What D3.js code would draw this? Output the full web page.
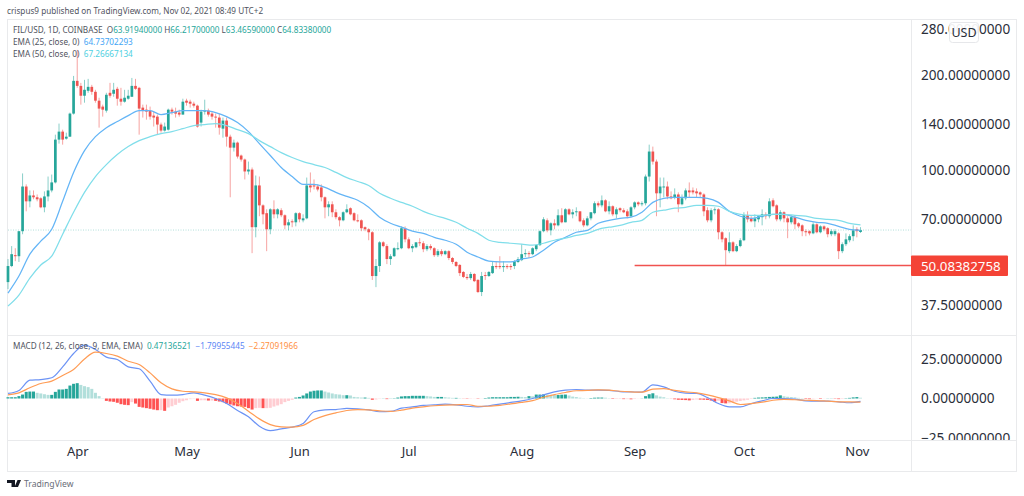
<!DOCTYPE html>
<html>
<head>
<meta charset="utf-8">
<script src="https://cdn.jsdelivr.net/npm/d3@7"></script>
<style>
  html, body { margin: 0; padding: 0; background: #fff; }
  svg { display: block; font-family: "Noto Sans", sans-serif; }
  .axis text { fill: #2a2e39; }
  .axis path { display: none; }
</style>
</head>
<body>
<svg id="chart" width="1024" height="496"></svg>
<script>
// daily candles, FIL/USD
var opens = [
  44.4,49.9,54,53.6,64.3,89,79.9,83.4,82.3,81.7,
  76.5,82.8,86.5,91.7,125.2,132.7,126.1,127.9,151.3,192,
  185.1,172.3,178.6,183.8,177.3,166.2,159.2,154.6,176,174.8,
  181.2,168.6,165,168.6,171,185.1,182.5,158,155.7,154.6,
  149.1,148,139.7,133.7,134.6,155.7,153.5,152.4,150.2,166.2,
  165,162.6,160.3,141.7,153.5,154.6,151.3,148,147,135.6,
  143.8,127.9,118.1,122.5,111.5,108.3,99.3,100.7,66.2,89.7,
  77.6,73.3,65.2,75.4,72.7,74.9,72.2,67.1,69.1,68.6,
  73.3,69.6,70.6,89.7,89.7,89,88.4,82.3,76.5,78.2,
  73.8,71.2,69.6,73.8,76,73.3,69.6,69.6,66.2,65.2,
  63.8,46.4,49.9,59.3,57.7,52.5,53.6,56.4,56.8,65.7,
  60.6,56.8,57.2,59.3,58.9,56.4,57.7,56.8,54,55.6,
  54.4,55.6,52.9,51.4,50.3,47.8,46.1,45.7,47.1,45.1,
  41.3,46.7,46.4,47.4,49.9,49.9,49.5,49.9,49.9,49.9,
  51.4,52.1,54.4,54.8,54.4,56.4,58.1,64.3,69.6,64.7,
  68.1,67.1,72.2,68.6,75.4,72.7,73.8,74.3,69.6,67.1,
  70.6,73.3,78.8,77.6,80.5,74.3,77.1,72.7,76,74.9,
  74.3,71.7,76.5,79.3,78.2,78.8,95.7,114.8,106.7,84.7,
  88.4,89,82.8,82.3,84,78.2,81.7,86.5,86.5,85.9,
  85.3,84,74.9,69.6,74.9,75.4,63.8,61.1,55.6,59.3,
  55.6,57.7,60.2,72.2,70.6,69.1,70.1,71.2,72.7,71.7,
  80.5,77.6,70.1,73.8,70.6,68.6,71.2,68.1,67.1,64.3,
  64.3,63.3,67.6,63.8,66.6,65.7,62.9,62.9,63.3,55.6,
  58.5,60.2,62,65.2,63.92
];
var highs = [
  52.5,57.7,56.8,64.3,97.9,90.4,86.5,86.5,84,82.3,
  85.9,95.7,97.1,129.8,140.7,134.6,131.7,152.4,199,240.5,
  189.2,193.4,194.8,186.5,179.9,169.8,161.5,176,189.2,189.2,
  183.8,182.5,179.9,179.9,196.1,194.8,183.8,161.5,161.5,159.2,
  153.5,150.2,141.7,141.7,156.9,158,158,155.7,168.6,168.6,
  167.4,165,161.5,155.7,167.4,156.9,153.5,151.3,151.3,147,
  147,129.8,125.2,123.4,112.3,109.1,106.7,102.2,96.4,95.7,
  78.2,75.4,76,80.5,76,76,72.7,70.1,70.1,73.8,
  73.8,72.7,95,98.6,93.7,90.4,90.4,82.8,79.9,79.9,
  75.4,71.7,74.3,78.2,76.5,73.8,72.7,70.1,66.6,65.7,
  64.3,52.5,59.8,59.8,58.5,54.4,57.2,59.3,66.6,66.6,
  61.5,58.5,59.3,61.1,59.8,58.5,58.5,57.2,56.4,56.4,
  56,56,53.3,51.7,50.6,48.1,47.1,47.8,47.4,45.4,
  47.8,47.8,48.1,51.7,51.7,53.6,51.7,50.6,50.6,52.1,
  53.3,58.5,56.4,55.6,57.2,58.5,64.7,71.2,70.6,68.6,
  70.1,75.4,76,76,76,75.4,76.5,74.3,70.6,71.7,
  73.8,79.9,79.9,83.4,81.1,79.9,77.6,76.5,76.5,76,
  75.4,77.1,79.9,79.9,79.9,97.1,120.7,119,108.3,95,
  95,92.3,85.9,87.8,85.3,84,87.8,91.7,88.4,87.8,
  85.9,84.7,76.5,76,76.5,76,64.3,61.5,63.8,59.8,
  58.5,61.1,73.8,74.3,71.7,72.7,72.2,75.4,73.8,81.7,
  81.7,78.2,74.9,74.3,71.7,72.2,72.2,68.6,67.6,65.2,
  64.7,68.6,68.1,67.1,67.1,66.2,65.2,65.2,63.8,59.3,
  63.3,62.9,67.1,66.2,66.22
];
var lows = [
  42.2,49.5,51.7,51.4,62.9,74.3,76.5,81.1,79.9,76,
  73.8,79.9,85.3,91,121.6,120.7,125.2,127.9,150.2,182.5,
  161.5,163.8,176,173.5,163.8,136.6,148,152.4,169.8,171,
  160.3,160.3,163.8,167.4,171,179.9,129.8,147,144.8,144.8,
  137.7,129.8,131.7,132.7,133.7,150.2,147,148,150.2,160.3,
  158,158,136.6,137.7,150.2,148,144.8,136.6,129.8,127,
  119,82.3,114.8,109.1,106.7,93.7,97.1,54.8,61.5,71.7,
  67.6,55.6,62.9,70.6,70.6,71.2,65.2,64.7,66.2,66.6,
  68.6,68.6,70.1,85.3,87.1,85.9,79.9,70.6,71.7,71.2,
  70.1,66.6,69.1,73.3,72.2,69.1,68.6,64.3,64.3,60.2,
  45.1,42.8,47.8,57.2,50.6,50.3,53.3,56,56.4,59.3,
  56.4,55.2,56.8,57.7,55.2,55.6,56,53.3,53.3,53.6,
  54,52.1,50.6,49.5,46.4,45.7,45.1,45.1,44.4,41,
  40.1,45.1,46.1,47.1,48.8,48.8,47.8,48.8,48.5,48.8,
  51,51.7,53.3,52.9,54,55.6,57.7,63.8,63.8,62.4,
  65.2,66.6,68.1,68.6,72.2,70.6,71.7,68.6,66.2,66.6,
  69.6,72.7,76.5,76.5,73.8,72.7,71.7,70.6,73.8,73.3,
  70.6,71.2,75.4,77.1,77.1,77.6,92.3,104.4,71.7,76.5,
  82.3,81.1,81.1,81.1,73.8,77.6,80.5,82.3,84,82.3,
  82.3,71.7,68.6,68.6,72.7,60.6,59.3,50.3,54.8,55.2,
  55.2,57.2,59.8,68.6,68.6,66.2,68.6,67.1,70.1,70.6,
  76.5,69.1,69.1,68.6,61.1,67.6,65.2,65.7,62,62,
  62.4,62.9,63.3,63.3,64.3,61.5,62,62,52.5,54.8,
  57.7,59.3,59.8,61.5,63.47
];
var closes = [
  49.9,54.4,53.6,64.3,89,79.9,83.4,82.3,81.1,76.5,
  82.8,86.5,91.7,125.2,132.7,125.2,127.9,151.3,192,185.1,
  172.3,179.9,183.8,177.3,166.2,156.9,155.7,173.5,172.3,179.9,
  168.6,165,169.8,172.3,185.1,181.2,156.9,154.6,153.5,148,
  147,139.7,133.7,137.7,155.7,153.5,151.3,150.2,165,163.8,
  162.6,160.3,137.7,153.5,154.6,150.2,148,147,136.6,143.8,
  127.9,118.1,122.5,110.7,108.3,99.3,100.7,66.2,89.7,77.6,
  72.7,65.2,75.4,72.7,75.4,72.2,67.1,68.6,68.6,73.3,
  70.1,70.6,89.7,88.4,89,87.1,82.3,76.5,78.2,73.8,
  71.2,69.6,73.8,75.4,72.7,69.6,69.1,65.7,65.2,63.8,
  46.4,49.9,59.3,57.7,52.5,53.6,56.8,56.8,65.7,60.6,
  56.8,57.7,59.3,58.9,56.4,57.7,56.8,54,55.6,54.4,
  55.6,52.9,51.4,49.9,47.4,46.1,45.7,47.1,44.7,41.3,
  46.4,46.4,47.8,49.9,49.5,49.5,49.9,49.5,49.5,51.7,
  52.5,54.4,54.8,54.4,56.8,58.1,64.3,70.1,64.7,68.1,
  67.1,72.2,68.6,75.4,72.7,73.8,74.3,69.1,67.1,70.6,
  73.8,78.8,77.6,80.5,74.3,77.1,72.7,75.4,74.9,73.8,
  71.7,76.5,79.3,78.2,78.8,95.7,114.8,106.7,84.7,89,
  89,82.8,81.7,84,78.2,81.7,86.5,85.3,85.3,84.7,
  84,74.3,69.6,74.9,75.4,63.8,60.6,56,59.3,55.6,
  57.7,60.2,72.2,70.1,69.1,70.6,71.7,72.7,71.7,79.9,
  77.1,70.1,73.8,70.6,68.6,71.2,67.6,66.6,64.3,63.8,
  63.3,67.6,63.8,66.6,65.2,62.9,64.3,64.3,55.6,58.5,
  60.6,62,64.7,64.3,64.83
];

// indicator lines, read every third day
var ema25 = [
  41,46.4,54.4,59.8,65.2,79.9,98.6,115.6,127.9,136.6,142.8,149.1,154.6,154.6,150.2,152.4,
  154.6,154.6,154.6,152.4,148,141.7,132.7,121.6,111.5,102.2,95.7,90.4,90.4,88.4,85.3,
  82.8,80.5,76.5,71.2,68.1,66.2,64.3,63.3,61.5,60.2,58.5,55.2,53.3,51.7,51.4,51.4,
  52.5,53.3,56,59.3,61.5,63.8,64.7,68.1,69.6,70.6,71.2,73.8,79.3,81.7,82.3,82.3,82.3,
  81.7,79.3,74.3,71.7,70.6,71.7,72.7,72.7,71.2,69.6,68.6,68.1,66.6,65.2,64.74
];
var ema50 = [
  37.3,40.4,45.7,50.3,53.6,62.9,73.8,85.3,95.7,104.4,112.3,119,124.3,127.9,130.8,132.7,
  135.6,138.7,139.7,140.7,138.7,134.6,130.8,124.3,119,113.9,109.9,106.7,104.4,102.2,98.6,
  95,92.3,89.7,84.7,81.7,79.3,77.1,74.3,72.2,70.6,68.6,65.7,63.3,60.2,59.3,58.9,
  58.5,58.1,58.9,60.2,61.1,62.4,63.3,65.2,66.2,67.1,68.6,69.6,73.8,74.9,76,76.5,77.6,
  77.6,77.1,74.3,72.7,72.2,72.2,72.7,72.7,72.2,71.7,70.6,70.1,69.6,68.1,67.27
];
var macdLine = [
  3.2,5.1,11.6,12,13.1,20,28.5,33.8,31,26.2,24.7,20,18.8,11,2.5,2.1,
  2.5,3.6,2.1,0,-3.2,-7.6,-11.6,-17.5,-20.3,-19.2,-18.1,-15.8,-8.4,-7.2,-7,
  -6.3,-6.5,-7.2,-8.4,-8.2,-6.1,-5.3,-4.4,-4,-3.6,-4,-4.9,-5.3,-4.6,-3.6,-2.5,
  -1.5,0,2.3,4.2,5.3,5.7,5.3,5.3,5.1,4.4,4.2,4,8.6,7.4,4.6,3.4,3.2,
  0.6,-3.2,-5.3,-5.3,-3.2,-1.5,0,0,-0.4,-1.5,-1.7,-1.7,-2.1,-2.7,-1.8
];
var signalLine = [
  2.3,3.6,6.8,9.5,11,14.6,18.4,25,29.3,28.5,26.8,23.6,21.5,16.2,9.9,6.1,
  4.6,4.2,3.6,2.5,0.4,-3.2,-8,-12.9,-16.5,-17.9,-18.1,-17,-13.3,-10.8,-9.1,
  -7.6,-7,-7.2,-7.8,-8.2,-7.4,-6.1,-5.3,-4.6,-4.2,-4,-3.8,-4.9,-4.9,-4.4,-3.4,
  -2.5,-1.3,0.8,2.5,3.8,4.9,5.1,5.5,5.3,4.6,4.2,4,5.9,6.3,5.1,4.2,3.6,
  2.3,0.6,-1.5,-3.8,-3.2,-2.3,-1.1,-0.6,-0.8,-1.1,-1.3,-1.7,-2.1,-2.1,-2.27
];
var histogram = [
  .8,.8,.8,1.5,2.5,4.2,4.4,4.4,3.6,3.2,
  2.7,2.3,2.3,4.2,5.7,5.7,6.1,8.2,9.3,9.7,
  8.6,7.8,7.2,6.1,3.6,1.5,.2,-1.5,-1.9,-2.1,
  -2.7,-3.6,-4,-4.2,-2.3,-3.2,-5.3,-5.7,-6.1,-6.5,
  -7,-7.4,-7.4,-7.8,-5.7,-4.9,-4,-2.7,-1.7,-1.1,
  -.4,-.2,-1.5,-1.1,-1.1,-1.3,-1.3,-1.5,-1.9,-2.3,
  -3.2,-3.8,-4.4,-4.9,-5.1,-5.3,-6.1,-7,-6.1,-5.9,
  -6.1,-6.1,-5.9,-5.1,-4.4,-3.6,-2.3,-1.5,-.8,.6,
  1,1.9,3.2,4.4,4.9,5.1,5.1,4.4,3.8,3.2,
  2.7,2.5,2.1,2.1,1.9,1,.8,.6,.6,.4,
  -.8,-.6,-.2,.1,-.4,.1,.2,.6,1.3,1.5,
  1.5,1.7,1.7,1.7,1.7,1.5,1.3,1,1,1,
  .8,.6,.4,.4,.2,-.1,-.2,-.2,-.1,-.2,
  -.1,.3,.6,.8,.8,.8,.8,.8,1,1,
  1.1,1,.9,1.5,1.4,2.5,2.5,2.6,2.4,2.3,
  2.2,2.2,2.4,2.5,1.9,1.2,.9,.5,.2,.1,
  .3,.5,.6,.6,.5,.2,-.3,-.3,-.3,-.4,
  -.4,-.5,-.3,-.1,.1,1.5,2.7,3.3,2,1.2,
  .8,.2,-.1,-.5,-.8,-.9,-1,-1.2,-.9,-.6,
  -.7,-.8,-.9,-1.3,-2,-1.4,-2.9,-3.1,-3,-2.6,
  -2,-1.6,-1.2,-.8,-.3,.4,.6,.7,.8,1,
  1.1,1.2,2,1.4,1.1,.9,.7,.4,.2,-.3,
  -.4,-.2,-.1,-.3,-.1,.1,.1,-.2,-.4,-.3,
  .2,.4,.7,.9,.47
];

var priceTicks = [280, 200, 140, 100, 70, 37.5];
var macdTicks = [25, 0, -25];
var monthTicks = ["2021-04-01","2021-05-01","2021-06-01","2021-07-01","2021-08-01","2021-09-01","2021-10-01","2021-11-01"];
var supportLevel = 50.08382758;
var supportFrom = "2021-09-01";
var lastClose = 64.8338;

var green = "#26a69a", red = "#ef5350";

var dates = d3.utcDay.range(new Date(Date.UTC(2021, 2, 13)), new Date(Date.UTC(2021, 10, 3)));
var every3 = dates.filter(function(d, i) { return i % 3 == 0; });

var x = d3.scaleUtc().domain([dates[0], dates[dates.length - 1]]).range([8, 860.5]);
var priceY = d3.scaleLog().domain([280, 37.5]).range([29, 305.3]);
var macdY = d3.scaleLinear().domain([25, -25]).range([359, 438]);

var svg = d3.select("#chart");

svg.append("defs").append("clipPath").attr("id", "macd-axis-clip")
  .append("rect").attr("x", 912).attr("y", 336).attr("width", 104).attr("height", 104);

// frame
var frame = svg.append("g").attr("stroke", "#e9eaec").attr("fill", "none");
frame.append("rect").attr("x", 7.5).attr("y", 19.5).attr("width", 1009).attr("height", 452);
frame.append("line").attr("x1", 7).attr("x2", 1017).attr("y1", 335.5).attr("y2", 335.5);
frame.append("line").attr("x1", 7).attr("x2", 1017).attr("y1", 440.5).attr("y2", 440.5);
frame.append("line").attr("x1", 911.5).attr("x2", 911.5).attr("y1", 19).attr("y2", 472);

// last price line
svg.append("line")
  .attr("x1", 8).attr("x2", 911)
  .attr("y1", priceY(lastClose)).attr("y2", priceY(lastClose))
  .attr("stroke", "#26a69a").attr("stroke-opacity", 0.35).attr("stroke-dasharray", "1,1.5");

// candles
var candles = svg.append("g").selectAll("g").data(dates).enter().append("g")
  .attr("fill", function(d, i) { return closes[i] >= opens[i] ? green : red; })
  .attr("stroke", function(d, i) { return closes[i] >= opens[i] ? green : red; });

candles.append("line")
  .attr("x1", function(d) { return x(d); })
  .attr("x2", function(d) { return x(d); })
  .attr("y1", function(d, i) { return priceY(highs[i]); })
  .attr("y2", function(d, i) { return priceY(lows[i]); })
  .attr("stroke-width", 0.9)
  .attr("stroke-opacity", 0.6);

candles.append("rect")
  .attr("stroke", "none")
  .attr("x", function(d) { return x(d) - 1.35; })
  .attr("width", 2.7)
  .attr("y", function(d, i) { return priceY(Math.max(opens[i], closes[i])); })
  .attr("height", function(d, i) {
    return Math.max(0.8, priceY(Math.min(opens[i], closes[i])) - priceY(Math.max(opens[i], closes[i])));
  });

// EMAs
var priceLine = d3.line()
  .x(function(d, i) { return x(every3[i]); })
  .y(function(d) { return priceY(d); })
  .curve(d3.curveMonotoneX);

svg.append("path").attr("d", priceLine(ema25))
  .attr("fill", "none").attr("stroke", "#64b5f6").attr("stroke-width", 1.25);
svg.append("path").attr("d", priceLine(ema50))
  .attr("fill", "none").attr("stroke", "#80deea").attr("stroke-width", 1.25);

// support line drawn on the chart
svg.append("line")
  .attr("x1", x(new Date(supportFrom))).attr("x2", 911)
  .attr("y1", priceY(supportLevel)).attr("y2", priceY(supportLevel))
  .attr("stroke", "#f0524f").attr("stroke-width", 1.6);

// MACD histogram
function histColor(d, i) {
  var rising = i == 0 || d >= histogram[i - 1];
  if (d >= 0) return rising ? "#26a69a" : "#b2dfdb";
  return rising ? "#ffcdd2" : "#ff5252";
}
svg.append("g").selectAll("rect").data(histogram).enter().append("rect")
  .attr("x", function(d, i) { return x(dates[i]) - 1.5; })
  .attr("width", 3)
  .attr("y", function(d) { return Math.min(macdY(d), macdY(0)); })
  .attr("height", function(d) { return Math.abs(macdY(d) - macdY(0)); })
  .attr("fill", histColor);

var macdPath = d3.line()
  .x(function(d, i) { return x(every3[i]); })
  .y(function(d) { return macdY(d); })
  .curve(d3.curveMonotoneX);

svg.append("path").attr("d", macdPath(macdLine))
  .attr("fill", "none").attr("stroke", "#6c93f5").attr("stroke-width", 1.2);
svg.append("path").attr("d", macdPath(signalLine))
  .attr("fill", "none").attr("stroke", "#ff9c55").attr("stroke-width", 1.2);

// axes
svg.append("g").attr("class", "axis").attr("transform", "translate(911,0)")
  .call(d3.axisRight(priceY).tickValues(priceTicks).tickSize(0).tickPadding(10)
    .tickFormat(function(d) { return d.toFixed(8); }))
  .attr("font-size", 13.6).attr("font-family", null);

svg.append("g").attr("class", "axis").attr("clip-path", "url(#macd-axis-clip)")
  .append("g").attr("transform", "translate(911,0)")
  .call(d3.axisRight(macdY).tickValues(macdTicks).tickSize(0).tickPadding(10)
    .tickFormat(function(d) { return d.toFixed(8).replace("-", "\u2212"); }))
  .attr("font-size", 13.6).attr("font-family", null);

svg.append("g").attr("class", "axis").attr("transform", "translate(0,447)")
  .call(d3.axisBottom(x).tickValues(monthTicks.map(function(m) { return new Date(m); }))
    .tickSize(0).tickPadding(0).tickFormat(d3.utcFormat("%b")))
  .attr("font-size", 13).attr("font-family", null);

// price label for the support line
svg.append("rect").attr("x", 911).attr("y", 255.5).attr("width", 97).attr("height", 20.5).attr("rx", 1).attr("fill", "#f44336");
svg.append("text").attr("x", 921).attr("y", priceY(supportLevel) + 5).attr("fill", "#fff")
  .attr("font-size", 13.3).text(supportLevel.toFixed(8));

// USD badge
svg.append("rect").attr("x", 949.5).attr("y", 22.5).attr("width", 29).attr("height", 20).attr("rx", 3)
  .attr("fill", "#fff").attr("fill-opacity", 0.92).attr("stroke", "#e6e7ea");
svg.append("text").attr("x", 964).attr("y", 37).attr("text-anchor", "middle")
  .attr("font-size", 12.5).attr("fill", "#2a2e39").text("USD");

// legends
function legend(xPos, yPos, parts) {
  var t = svg.append("text").attr("x", xPos).attr("y", yPos).attr("font-size", 8.2).attr("fill", "#50535e");
  parts.forEach(function(p) {
    t.append("tspan").attr("fill", p[1]).text(p[0]);
  });
}
legend(13, 33, [["FIL/USD, 1D, COINBASE\u00a0\u00a0O", "#50535e"], ["63.91940000", green], ["\u00a0H", "#50535e"], ["66.21700000", green],
  ["\u00a0L", "#50535e"], ["63.46590000", green], ["\u00a0C", "#50535e"], ["64.83380000", green]]);
legend(13, 45, [["EMA (25, close, 0)\u00a0\u00a0", "#50535e"], ["64.73702293", "#42a5f5"]]);
legend(13, 57, [["EMA (50, close, 0)\u00a0\u00a0", "#50535e"], ["67.26667134", "#4dd0e1"]]);
legend(13, 349, [["MACD (12, 26, close, 9, EMA, EMA)\u00a0\u00a0", "#50535e"], ["0.47136521", green], ["\u00a0\u00a0\u22121.79955445", "#5b86f5"], ["\u00a0\u00a0\u22122.27091966", "#ff8f3f"]]);

// header and footer
svg.append("text").attr("x", 7).attr("y", 14).attr("font-size", 8.2).attr("fill", "#50535e")
  .text("crispus9 published on TradingView.com, Nov 02, 2021 08:49 UTC+2");
svg.append("path").attr("d", "M7 480h8v7h-3.5v-4h-4.5zM17.5 480h3.5l-3 7h-3.5z").attr("fill", "#131722");
svg.append("text").attr("x", 24).attr("y", 487).attr("font-size", 8.6).attr("fill", "#6a6d78").text("TradingView");
</script>
</body>
</html>
